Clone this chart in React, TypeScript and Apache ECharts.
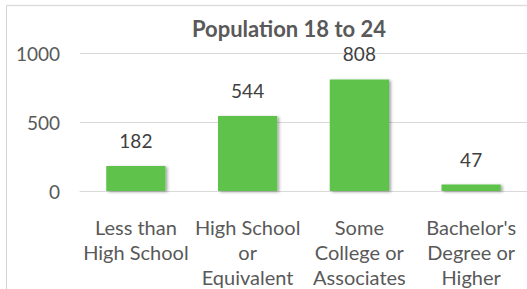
import React, { useEffect, useRef } from "react";
import * as echarts from "echarts";

const categories = [
  "Less than\nHigh School",
  "High School\nor\nEquivalent",
  "Some\nCollege or\nAssociates",
  "Bachelor's\nDegree or\nHigher",
];
const values = [182, 544, 808, 47];
const yTicks = [0, 500, 1000];
const title = "Population 18 to 24";

const FONT = "Lato, 'Noto Sans', sans-serif";

export default function App() {
  const ref = useRef<HTMLDivElement>(null);
  useEffect(() => {
    document.body.style.margin = "0";
    const chart = echarts.init(ref.current!, undefined, { renderer: "svg" });
    chart.setOption({
      animation: false,
      backgroundColor: "#ffffff",
      title: {
        text: title,
        left: 284,
        top: 12,
        textAlign: "center",
        textStyle: { fontFamily: FONT, fontSize: 22, fontWeight: "bold", color: "#595959" },
      },
      grid: { left: 80, top: 53, width: 452, height: 141 },
      xAxis: {
        type: "category",
        data: categories,
        axisLine: { show: true, lineStyle: { color: "#d9d9d9", width: 1 } },
        axisTick: { show: false },
        axisLabel: {
          interval: 0,
          margin: 23,
          fontFamily: FONT,
          fontSize: 20,
          lineHeight: 25,
          color: "#595959",
        },
      },
      yAxis: {
        type: "value",
        min: yTicks[0],
        max: yTicks[yTicks.length - 1],
        interval: 500,
        axisLine: { show: false },
        axisTick: { show: false },
        splitLine: { lineStyle: { color: "#d9d9d9", width: 1 } },
        axisLabel: {
          margin: 20,
          fontFamily: FONT,
          fontSize: 19,
          color: "#595959",
          formatter: (v: number) => String(v),
        },
      },
      series: [
        {
          type: "bar",
          data: values,
          barWidth: "53%",
          itemStyle: {
            color: "#5fc34b",
            shadowColor: "rgba(0,0,0,0.35)",
            shadowBlur: 3,
            shadowOffsetX: 2,
            shadowOffsetY: 1,
          },
          label: {
            show: true,
            position: "top",
            distance: 16,
            fontFamily: FONT,
            fontSize: 19,
            color: "#404040",
          },
        },
      ],
      graphic: [
        {
          type: "line",
          shape: { x1: 6.5, y1: 6, x2: 6.5, y2: 289 },
          style: { stroke: "#d4d4d4", lineWidth: 1 },
        },
        {
          type: "line",
          shape: { x1: 6, y1: 5.5, x2: 527, y2: 5.5 },
          style: { stroke: "#dedede", lineWidth: 1.5 },
        },
      ],
    });
    return () => chart.dispose();
  }, []);
  return (
    <div
      ref={ref}
      style={{ position: "fixed", left: 0, top: 0, width: 527, height: 289 }}
    />
  );
}
